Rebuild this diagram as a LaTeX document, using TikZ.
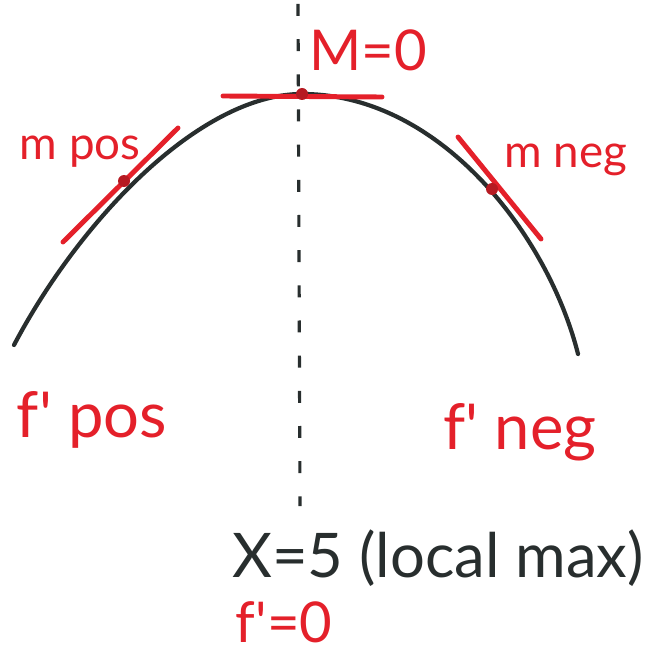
\documentclass[tikz,border=0pt]{standalone}
\usepackage{fontspec}
\setmainfont{Lato}
\usepackage{tikz}
\usetikzlibrary{positioning, calc}
\definecolor{inkred}{RGB}{228,32,42}
\definecolor{inkblack}{RGB}{40,46,46}
\tikzset{
  curveline/.style={draw=inkblack, line width=1.2pt, line cap=round},
  tangent/.style={draw=inkred, line width=1.4pt, line cap=round},
  touch/.style={fill=inkred!80!black, draw=none},
  axisline/.style={draw=inkblack, line width=0.9pt, dash pattern=on 3.4pt off 6.6pt},
  redlabel/.style={text=inkred, font=\fontsize{16}{19}\selectfont, inner sep=0pt},
  smalllabel/.style={redlabel, font=\fontsize{13}{16}\selectfont},
  blacklabel/.style={text=inkblack, font=\fontsize{17.5}{20}\selectfont, inner sep=0pt}
}
\begin{document}
\begin{tikzpicture}[x=0.01cm, y=-0.01cm]
            \useasboundingbox (0,0) rectangle (662,661);

            % Punkte auf der Kurve
            \coordinate (left) at (14,345);
            \coordinate (posPt) at (124,181);
            \coordinate (top) at (302,94);
            \coordinate (negPt) at (492,189);
            \coordinate (right) at (578,354);

            % senkrechte Linie bei x=5
            \coordinate (axTop) at (298,4);
            \coordinate (axBot) at (300,506);
            \draw [axisline] (axTop) -- (axBot);

            % die Kurve
            \draw [curveline] (left) .. controls (80,220) and (200,94) .. (top)
                                     .. controls (440,94) and (548,235) .. (right);

            % Tangenten
            \coordinate (tTopL) at (223,96);
            \coordinate (tTopR) at (382,97);
            \coordinate (tPosA) at (63,242);
            \coordinate (tPosB) at (178,128);
            \coordinate (tNegA) at (458,137);
            \coordinate (tNegB) at (541,239);
            \draw [tangent] (tTopL) -- (tTopR);
            \draw [tangent] (tPosA) -- (tPosB);
            \draw [tangent] (tNegA) -- (tNegB);
            \fill [touch] (top) circle (6);
            \fill [touch] (posPt) circle (6);
            \fill [touch] (negPt) circle (6);

            % Beschriftungen
            \node (mZero) [redlabel] at (368,50) {M=0};
            \node (mPos) [smalllabel] at (80,152) {m pos};
            \node (mNeg) [smalllabel] at (566,160) {m neg};
            \node (fPos) [redlabel, font=\fontsize{18}{21}\selectfont] at (92,420) {f\textquotesingle\ pos};
            \node (fNeg) [redlabel, font=\fontsize{18}{21}\selectfont] at (520,432) {f\textquotesingle\ neg};
            \node (xFive) [blacklabel] at (438,558) {X=5 (local max)};
            \node (fZero) [redlabel] at (284,622) {f\textquotesingle=0};
\end{tikzpicture}
\end{document}
